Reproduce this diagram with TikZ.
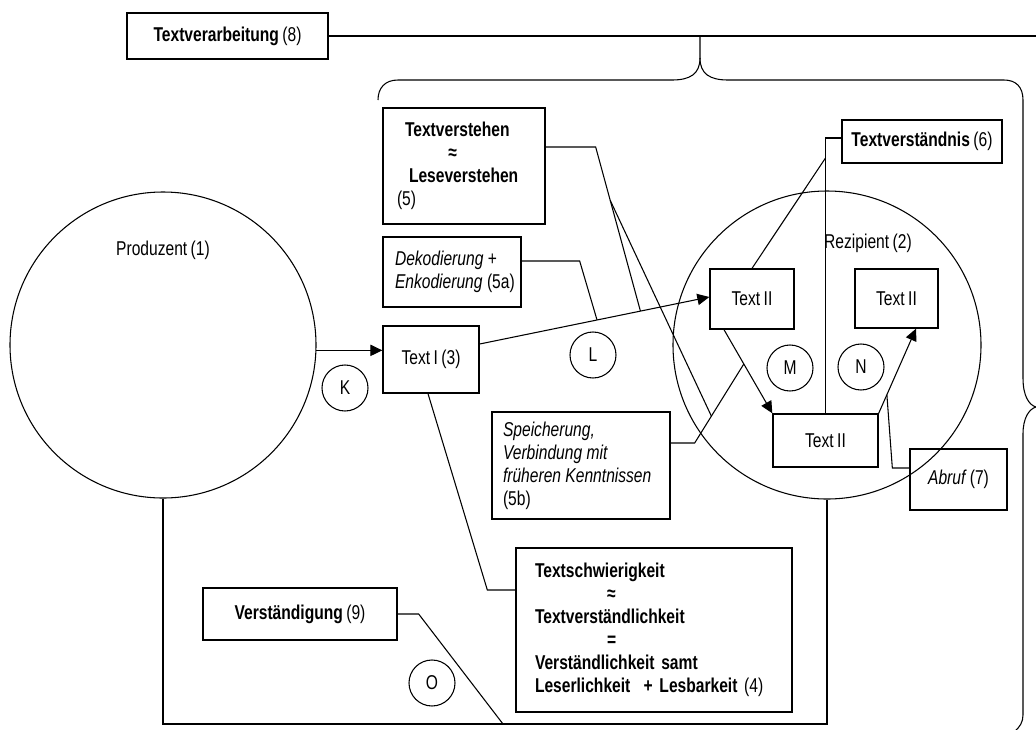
\documentclass[tikz,border=0pt]{standalone}
\usepackage{fontspec}
\setmainfont[FakeStretch=0.78,WordSpace=0.8]{Liberation Sans}
\usetikzlibrary{arrows.meta,calc}
\newcommand{\wsp}{\hspace{3.3pt}}
\begin{document}
\begin{tikzpicture}[x=0.75pt,y=-0.75pt,
  every node/.style={font=\fontsize{15}{17.25}\selectfont, text=black},
  lbox/.style={draw, line width=1pt, inner sep=0pt},
  mbox/.style={lbox, align=left},
  bigc/.style={draw, circle, line width=0.8pt, inner sep=0pt},
  lett/.style={draw, circle, line width=0.8pt, inner sep=0pt, minimum size=34.5pt},
  conn/.style={line width=0.8pt},
  arr/.style={line width=0.8pt, -{Triangle[length=9pt,width=8.5pt]}}]
\useasboundingbox (0,0) rectangle (1036,729);

% circles
\node[bigc, minimum size=229.5pt] (prod) at (163,345) {};
\node[bigc, minimum size=231pt] (rez) at (827,345) {};
\node (prodl) at (163,250) {Produzent (1)};
\node (rezl) at (868,243) {Rezipient (2)};

% boxes
\node[lbox, minimum width=150.75pt, minimum height=34.5pt] (tva) at (227.5,36) {\textbf{Textverarbeitung} (8)};
\node[mbox, text width=100.5pt, inner xsep=10.5pt, minimum height=87pt] (tv) at (464,166)
  {\hspace*{6pt}\textbf{Textverstehen}\\\hspace*{38.5pt}\textbf{≈}\\\hspace*{9pt}\textbf{Leseverstehen}\\(5)};
\node[mbox, text width=85.5pt, inner xsep=9pt, minimum height=52.5pt] (dek) at (452,272)
  {\mbox{{\itshape Dekodierung}\wsp+}\\\mbox{{\itshape Enkodierung}\wsp(5a)}};
\node[lbox, minimum width=72pt, minimum height=50.25pt] (ti) at (431,359.5) {Text I (3)};
\node[mbox, text width=117pt, inner xsep=8.25pt, minimum height=80.25pt] (sp) at (581,465.5)
  {\mbox{\itshape Speicherung,}\\\mbox{\itshape Verbindung\wsp mit}\\\mbox{\itshape früheren\wsp Kenntnissen}\\(5b)};
\node[mbox, text width=178.5pt, inner xsep=14.25pt, minimum height=123pt] (ts) at (654,630)
  {\textbf{Textschwierigkeit}\\\hspace*{54pt}\textbf{≈}\\\textbf{Textverständlichkeit}\\\hspace*{54pt}\textbf{=}\\\mbox{\bfseries Verständlichkeit samt}\\\mbox{{\bfseries Leserlichkeit\ \ + Lesbarkeit} (4)}};
\node[lbox, minimum width=145.5pt, minimum height=39pt] (vs) at (300,614) {\textbf{Verständigung} (9)};
\node[lbox, minimum width=120pt, minimum height=32.25pt] (tvn) at (922,141.5) {\textbf{Textverständnis} (6)};
\node[lbox, minimum width=63pt, minimum height=45pt] (t2a) at (752,299) {Text II};
\node[lbox, minimum width=62.25pt, minimum height=44.25pt] (t2b) at (896.5,298.5) {Text II};
\node[lbox, minimum width=78.75pt, minimum height=39.75pt] (t2c) at (825.5,440.5) {Text II};
\node[lbox, minimum width=72.75pt, minimum height=45.75pt] (ab) at (958.5,479.5) {{\itshape Abruf}\wsp(7)};

% letter circles
\node[lett] (K) at (345,388) {K};
\node[lett] (L) at (593,355) {L};
\node[lett] (M) at (790,368) {M};
\node[lett] (N) at (861,367) {N};
\node[lett] (O) at (432,683) {O};

% arrows
\draw[arr] (prod.-2.25) -- (ti.west |- prod.-2.25);
\draw[arr] ($(ti.east)+(0,-15.5)$) -- coordinate[pos=0.511] (p1) coordinate[pos=0.70] (p2) ($(t2a.west)+(0,-2)$);
\draw[arr] ($(t2a.south)+(-28,0)$) -- coordinate[pos=0.41] (p3) (t2c.north west);
\draw[arr] (t2c.north east) -- coordinate[pos=0.22] (p4) ($(t2b.south)+(19.5,0)$);

% connectors
\draw[conn] ($(dek.east)+(0,-11)$) -- ++(58,0) -- (p1);
\draw[conn] ($(tv.east)+(0,-19)$) -- ++(50,0) -- coordinate[pos=0.325] (q1) (p2);
\draw[conn] ($(sp.east)+(0,-22.5)$) -- ++(24,0) -- coordinate[pos=0.34] (q2) (p3);
\draw[conn] (q1) -- (q2);
\draw[conn] ($(ti.south)+(-3,0)$) -- ($(ts.west)+(-28,-40)$) -- ($(ts.west)+(0,-40)$);
\coordinate (j1) at (t2c.north |- 0,158);
\draw[conn] ($(tvn.west)+(0,-3.5)$) -| (t2c.north);
\draw[conn] (j1) -- (t2a.north);
\draw[conn] ($(ab.west)+(0,-11.5)$) -- ++(-17,0) -- (p4);
\coordinate (vb) at (503,724);
\draw[conn] (vs.east) -- ++(21,0) -- (vb);
\draw[conn] (prod.south) |- (vb) -| (rez.south);

% top line and brace
\draw[conn] (tva.east) -- (1040,36);
\draw[conn] (700,36) -- (700,58)
  .. controls (700,74) and (690,80) .. (672,80) -- (398,80)
  .. controls (385,80) and (378,88) .. (378,100);
\draw[conn] (700,58)
  .. controls (700,74) and (710,80) .. (728,80) -- (1004,80)
  .. controls (1016,80) and (1023,87) .. (1023,100) -- (1023,378)
  .. controls (1023,396) and (1029,405) .. (1036,407)
  .. controls (1029,409) and (1023,418) .. (1023,434) -- (1023,715)
  .. controls (1023,722) and (1020,727) .. (1014,732);
\end{tikzpicture}
\end{document}
